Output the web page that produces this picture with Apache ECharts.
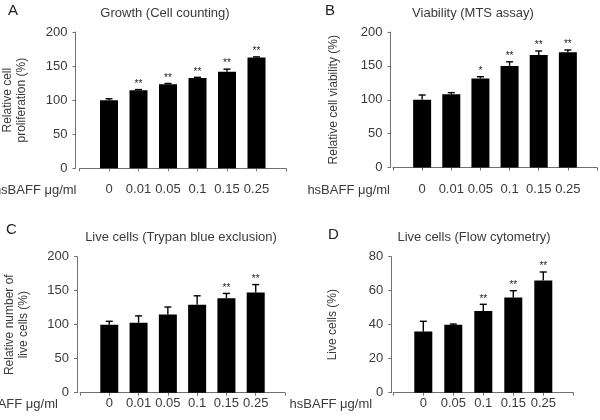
<!DOCTYPE html>
<html>
<head>
<meta charset="utf-8">
<script src="https://cdn.jsdelivr.net/npm/echarts@6/dist/echarts.min.js"></script>
<style>html,body{margin:0;padding:0;background:#fff;}#c{width:600px;height:420px;}</style>
</head>
<body>
<div id="c"></div>
<script>
// ---- data ----
const catsABC = ['0', '0.01', '0.05', '0.1', '0.15', '0.25'];
const catsD = ['0', '0.05', '0.1', '0.15', '0.25'];

const valA = [100, 114.5, 123.5, 132.5, 141.5, 162.5];
const errA = [2, 1, 1, 1, 4, 1];
const starsA = ['', '**', '**', '**', '**', '**'];

const valB = [100, 108, 131.5, 150, 166, 170];
const errB = [7, 2.5, 2.5, 6, 6, 3.5];
const starsB = ['', '', '*', '**', '**', '**'];

const valC = [100, 103, 115, 129.5, 139, 147.5];
const errC = [5, 10, 11, 13, 7, 11.5];
const starsC = ['', '', '', '', '**', '**'];

const valD = [36, 40, 48, 56, 66];
const errD = [6, 0.4, 4, 4, 5];
const starsD = ['', '', '**', '**', '**'];

const yTicksABC = [0, 50, 100, 150, 200];
const yTicksD = [0, 20, 40, 60, 80];

const titlesText = ['Growth (Cell counting)', 'Viability (MTS assay)', 'Live cells (Trypan blue exclusion)', 'Live cells (Flow cytometry)'];
const letters = ['A', 'B', 'C', 'D'];
const yNames = ['Relative cell\nproliferation (%)', 'Relative cell viability (%)', 'Relative number of\nlive cells (%)', 'Live cells (%)'];
const xName = 'hsBAFF \u03bcg/ml';

// ---- styling ----
const FONT = 'Liberation Sans, Arial, sans-serif';
const TXT = '#3a3a3a';
const AX = '#707070';

const chart = echarts.init(document.getElementById('c'), null, {renderer: 'canvas'});

function pairs(vals) { return vals.map((v, i) => [i, v]); }

function errRender(errs, stars) {
  return function (params, api) {
    const idx = params.dataIndex;
    const i = api.value(0), v = api.value(1);
    const e = errs[idx];
    const p0 = api.coord([i, v]);
    const p1 = api.coord([i, v + e]);
    const children = [
      {type: 'line', shape: {x1: p0[0], y1: p0[1], x2: p1[0], y2: p1[1]}, style: {stroke: '#000', lineWidth: 1.4}},
      {type: 'line', shape: {x1: p1[0] - 3.5, y1: p1[1], x2: p1[0] + 3.5, y2: p1[1]}, style: {stroke: '#000', lineWidth: 1.4}}
    ];
    if (stars[idx]) {
      children.push({
        type: 'text', x: p1[0], y: p1[1] - 0.5,
        style: {text: stars[idx], fill: '#222', font: '10px ' + FONT,
                align: 'center', verticalAlign: 'bottom', textAlign: 'center', textVerticalAlign: 'bottom'}
      });
    }
    return {type: 'group', children: children};
  };
}

const grids = [
  {left: 79.5, right: 314, top: 32, bottom: 251.7},
  {left: 393, right: 3, top: 32, bottom: 252.5},
  {left: 80, right: 315, top: 256.7, bottom: 27.3},
  {left: 393.3, right: 26.7, top: 256.7, bottom: 27.3}
].map(g => Object.assign(g, {containLabel: false, outerBoundsMode: 'none'}));
const yOffsets = [4, 2.5, 3, 2];
const nameGaps = [47, 50, 46, 52];
const labelMargins = [15, 15, 4, 4];
const cats = [catsABC, catsABC, catsABC, catsD];
const yTicks = [yTicksABC, yTicksABC, yTicksABC, yTicksD];
const vals = [valA, valB, valC, valD];
const errs = [errA, errB, errC, errD];
const stars = [starsA, starsB, starsC, starsD];

const xAxes = [], yAxes = [], series = [], titles = [];
const letterPos = [[8, 3], [325, 3], [6, 222], [328, 227]];
const titleCenters = [165, 473, 181, 474];
const titleTops = [6.5, 6.5, 231, 231];

for (let k = 0; k < 4; k++) {
  const c = cats[k];
  xAxes.push({
    type: 'value', gridIndex: k, min: -1, max: c.length, interval: 1,
    splitLine: {show: false},
    axisLine: {show: true, onZero: false, lineStyle: {color: AX, width: 1}},
    axisTick: {show: true, length: 3, lineStyle: {color: AX}},
    axisLabel: {
      margin: labelMargins[k], color: TXT, fontSize: 13, fontFamily: FONT,
      showMinLabel: true, showMaxLabel: true, hideOverlap: false,
      formatter: function (v) { return (v >= 0 && v < c.length) ? c[v] : ''; }
    },
    name: xName, nameLocation: 'start', nameGap: 3,
    nameTextStyle: {color: TXT, fontSize: 13, fontFamily: FONT, align: 'right', verticalAlign: 'top',
                    padding: [labelMargins[k] + 1, 0, 0, 0]}
  });
  const t = yTicks[k];
  yAxes.push({
    type: 'value', gridIndex: k, min: t[0], max: t[t.length - 1], interval: t[1] - t[0],
    offset: yOffsets[k],
    splitLine: {show: false},
    axisLine: {show: true, onZero: false, lineStyle: {color: AX, width: 1}},
    axisTick: {show: true, length: 3, lineStyle: {color: AX}},
    axisLabel: {margin: 8, color: TXT, fontSize: 13, fontFamily: FONT},
    name: yNames[k], nameLocation: 'middle', nameGap: nameGaps[k], nameRotate: 90,
    nameTextStyle: {color: TXT, fontSize: 12, fontFamily: FONT, lineHeight: 14}
  });
  series.push({
    type: 'bar', xAxisIndex: k, yAxisIndex: k, data: pairs(vals[k]),
    barWidth: 18, itemStyle: {color: '#000'}, silent: true, animation: false
  });
  series.push({
    type: 'custom', xAxisIndex: k, yAxisIndex: k, data: pairs(vals[k]),
    renderItem: errRender(errs[k], stars[k]), z: 5, silent: true, animation: false, clip: false
  });
  titles.push({
    text: letters[k], left: letterPos[k][0], top: letterPos[k][1], padding: 0,
    textStyle: {color: '#222', fontSize: 15, fontWeight: 'normal', fontFamily: FONT}
  });
  titles.push({
    text: titlesText[k], left: titleCenters[k], textAlign: 'center', top: titleTops[k], padding: 0,
    textStyle: {color: TXT, fontSize: 13, fontWeight: 'normal', fontFamily: FONT}
  });
}

chart.setOption({
  animation: false,
  backgroundColor: '#fff',
  title: titles,
  grid: grids,
  xAxis: xAxes,
  yAxis: yAxes,
  series: series
});
</script>
</body>
</html>
